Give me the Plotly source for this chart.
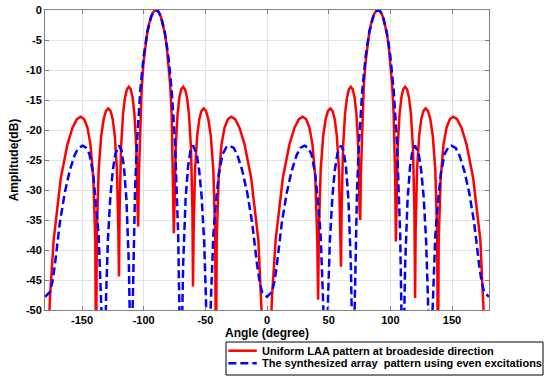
import plotly.graph_objects as go

# ---- Data ----
red_angle = [
    -180, -175.95, -172.98, -167.16, -161.81, -157.67, -154.16, -151.04, -148.21, -145.59, -143.13, -140.81, -139.24, -138.59,
    -137.94, -136.47, -134.43, -132.45, -130.54, -128.68, -126.87, -125.10, -123.37, -121.67, -120.50, -120.0,
    -119.51, -118.36, -116.74, -115.15, -113.58, -112.02, -110.49, -108.97, -107.46, -105.96, -104.92, -104.45,
    -103.89, -102.71, -101.54, -100.08, -98.63, -97.18, -95.74, -94.30, -92.87, -91.43, -90, -88.57, -87.13, -85.70,
    -84.26, -82.82, -81.37, -79.92, -78.46, -77.29, -76.11, -75.55,
    -75.08, -74.04, -72.54, -71.03, -69.51, -67.98, -66.42, -64.85, -63.26, -61.64, -60.49, -60.0,
    -59.50, -58.33, -56.63, -54.90, -53.13, -51.32, -49.46, -47.55, -45.57, -43.53, -42.06, -41.41,
    -40.76, -39.19, -36.87, -34.41, -31.79, -28.96, -25.84, -22.33, -18.19, -12.84, -7.02, -4.05, 0,
    4.05, 7.02, 12.84, 18.19, 22.33, 25.84, 28.96, 31.79, 34.41, 36.87, 39.19, 40.76, 41.45,
    42.06, 43.53, 45.57, 47.55, 49.46, 51.32, 53.13, 54.90, 56.63, 58.33, 59.50, 60.0,
    60.49, 61.64, 63.26, 64.85, 66.42, 67.98, 69.51, 71.03, 72.54, 74.04, 75.08, 75.6,
    76.11, 77.29, 78.46, 79.92, 81.37, 82.82, 84.26, 85.70, 87.13, 88.57, 90, 91.43, 92.87, 94.30,
    95.74, 97.18, 98.63, 100.08, 101.54, 102.71, 103.89, 104.5,
    104.92, 105.96, 107.46, 108.97, 110.49, 112.02, 113.58, 115.15, 116.74, 118.36, 119.51, 120.1,
    120.50, 121.67, 123.37, 125.10, 126.87, 128.68, 130.54, 132.45, 134.43, 136.47, 137.94, 138.59,
    139.24, 140.81, 143.13, 145.59, 148.21, 151.04, 154.16, 157.67, 161.81, 167.16, 172.98, 175.95, 180,
]
red_db = [
    -70, -47.8, -38.3, -28.0, -22.4, -19.6, -18.2, -17.8, -18.2, -19.6, -22.4, -28.0, -38.3, -60,
    -36.9, -26.6, -21.0, -18.2, -16.8, -16.4, -16.8, -18.2, -21.0, -26.6, -36.9, -44.4,
    -33.3, -23.0, -17.4, -14.6, -13.2, -12.8, -13.2, -14.6, -17.4, -23.0, -33.3, -36.1,
    -27.6, -17.5, -12.6, -8.7, -5.9, -3.9, -2.4, -1.33, -0.58, -0.14, 0, -0.14, -0.58, -1.33,
    -2.4, -3.9, -5.9, -8.7, -12.6, -17.5, -27.6, -37.2,
    -33.3, -23.0, -17.4, -14.6, -13.2, -12.8, -13.2, -14.6, -17.4, -23.0, -33.3, -46.1,
    -36.9, -26.6, -21.0, -18.2, -16.8, -16.4, -16.8, -18.2, -21.0, -26.6, -36.9, -60,
    -38.3, -28.0, -22.4, -19.6, -18.2, -17.8, -18.2, -19.6, -22.4, -28.0, -38.3, -47.8, -70,
    -47.8, -38.3, -28.0, -22.4, -19.6, -18.2, -17.8, -18.2, -19.6, -22.4, -28.0, -38.3, -48.3,
    -36.9, -26.6, -21.0, -18.2, -16.8, -16.4, -16.8, -18.2, -21.0, -26.6, -36.9, -42.8,
    -33.3, -23.0, -17.4, -14.6, -13.2, -12.8, -13.2, -14.6, -17.4, -23.0, -33.3, -35.0,
    -27.6, -17.5, -12.6, -8.7, -5.9, -3.9, -2.4, -1.33, -0.58, -0.14, 0, -0.14, -0.58, -1.33,
    -2.4, -3.9, -5.9, -8.7, -12.6, -17.5, -27.6, -38.6,
    -33.3, -23.0, -17.4, -14.6, -13.2, -12.8, -13.2, -14.6, -17.4, -23.0, -33.3, -48.0,
    -36.9, -26.6, -21.0, -18.2, -16.8, -16.4, -16.8, -18.2, -21.0, -26.6, -36.9, -60,
    -38.3, -28.0, -22.4, -19.6, -18.2, -17.8, -18.2, -19.6, -22.4, -28.0, -38.3, -47.8, -70,
]

blue_angle = [
    -180, -176, -174, -172, -168, -164, -160, -156, -153, -149.5, -147, -144, -141, -138.4, -136.5, -134.3, -132.5,
    -130.5, -129, -127, -125, -123, -120, -118, -116, -114, -112, -111, -110,
    -109, -108, -107, -105.4, -102.7, -100, -97, -94, -92, -90, -88, -86, -83, -80, -77.3, -74.6, -73, -72, -71, -70,
    -69, -68, -66, -64, -62, -60, -57, -55, -53, -51, -49.5, -47.5,
    -45.7, -43.5, -41.6, -39, -36, -33, -30.5, -27, -24, -20, -16, -12, -8, -6, -4, 0,
    4, 6, 8, 12, 16, 20, 24, 27, 30.5, 33, 36, 39, 41.6, 43.5, 45.7, 47.5,
    49.5, 51, 53, 55, 57, 60, 62, 64, 66, 68, 69, 70,
    71, 72, 73, 74.6, 77.3, 80, 83, 86, 88, 90, 92, 94, 97, 100, 102.7, 105.4, 107, 108, 109, 110,
    111, 112, 114, 116, 118, 120, 123, 125, 127, 129, 130.5, 132.5,
    134.3, 136.5, 138.4, 141, 144, 147, 149.5, 153, 156, 160, 164, 168, 172, 174, 176, 180,
]
blue_db = [
    -47.8, -47.0, -45.3, -42.5, -35.5, -30.5, -26.8, -24.2, -23.0, -22.6, -22.9, -24.0, -27.2, -32.5, -37.5, -49.7, -75,
    -48.0, -38.4, -31.1, -26.7, -24.0, -22.6, -23.4, -26.1, -31.5, -42.5, -54, -75,
    -50.3, -37.6, -30.1, -22.0, -13.3, -7.7, -3.6, -1.13, -0.27, 0, -0.27, -1.13, -3.6, -7.7, -13.3, -22.0, -30.1, -37.6, -50.3, -75,
    -54, -42.5, -31.5, -26.1, -23.4, -22.6, -24.0, -26.7, -31.1, -38.4, -48.0, -75,
    -49.7, -37.5, -32.5, -27.2, -24.0, -22.9, -22.6, -23.0, -24.2, -26.8, -30.5, -35.5, -42.5, -45.3, -47.0, -47.8,
    -47.0, -45.3, -42.5, -35.5, -30.5, -26.8, -24.2, -23.0, -22.6, -22.9, -24.0, -27.2, -32.5, -37.5, -49.7, -75,
    -48.0, -38.4, -31.1, -26.7, -24.0, -22.6, -23.4, -26.1, -31.5, -42.5, -54, -75,
    -50.3, -37.6, -30.1, -22.0, -13.3, -7.7, -3.6, -1.13, -0.27, 0, -0.27, -1.13, -3.6, -7.7, -13.3, -22.0, -30.1, -37.6, -50.3, -75,
    -54, -42.5, -31.5, -26.1, -23.4, -22.6, -24.0, -26.7, -31.1, -38.4, -48.0, -75,
    -49.7, -37.5, -32.5, -27.2, -24.0, -22.9, -22.6, -23.0, -24.2, -26.8, -30.5, -35.5, -42.5, -45.3, -47.0, -47.8,
]

x_ticks = [-150, -100, -50, 0, 50, 100, 150]
x_tick_labels = ["-150", "-100", "-50", "0", "50", "100", "150"]
y_ticks = [-50, -45, -40, -35, -30, -25, -20, -15, -10, -5, 0]
y_tick_labels = ["-50", "-45", "-40", "-35", "-30", "-25", "-20", "-15", "-10", "-5", "0"]

red_name = "Uniform LAA pattern at broadeside direction"
blue_name = "The synthesized array\u00a0 pattern using even excitations"

RED = "#ff0000"
BLUE = "#0000ff"
DASH = "8px,4px"
FONT = "Liberation Sans, Arial, sans-serif"

fig = go.Figure()
fig.add_trace(go.Scatter(x=red_angle, y=red_db, mode="lines", name=red_name,
                         line=dict(color=RED, width=2.5), showlegend=False))
fig.add_trace(go.Scatter(x=blue_angle, y=blue_db, mode="lines", name=blue_name,
                         line=dict(color=BLUE, width=2.5, dash=DASH), showlegend=False))

axis_common = dict(
    showgrid=True, gridcolor="#e3e3e3", gridwidth=1,
    zeroline=False, showline=True, linecolor="#808080", linewidth=1,
    mirror="ticks", ticks="inside", ticklen=4, tickcolor="#808080",
    tickfont=dict(family=FONT, size=11, color="black", weight="bold"),
    automargin=False,
)

# Legend box (placed below the plot, in paper coordinates of the plot area)
L_X0, L_X1, L_Y0, L_Y1 = 0.4077, 1.1216, -0.2167, -0.1067
ROW1, ROW2 = -0.1357, -0.1777
SAMPLE_X0, SAMPLE_X1, TEXT_X = 0.4129, 0.4770, 0.4842

shapes = [
    dict(type="rect", xref="paper", yref="paper", x0=L_X0, x1=L_X1, y0=L_Y0, y1=L_Y1,
         line=dict(color="black", width=1), fillcolor="white", layer="above"),
    dict(type="line", xref="paper", yref="paper", x0=SAMPLE_X0, x1=SAMPLE_X1, y0=ROW1, y1=ROW1,
         line=dict(color=RED, width=2.5)),
    dict(type="line", xref="paper", yref="paper", x0=SAMPLE_X0, x1=SAMPLE_X1, y0=ROW2, y1=ROW2,
         line=dict(color=BLUE, width=2.5, dash=DASH)),
]
annotations = [
    dict(text="<b>%s</b>" % red_name, xref="paper", yref="paper", x=TEXT_X, y=ROW1,
         xanchor="left", yanchor="middle", showarrow=False,
         font=dict(family=FONT, size=11, color="black")),
    dict(text="<b>%s</b>" % blue_name, xref="paper", yref="paper", x=TEXT_X, y=ROW2,
         xanchor="left", yanchor="middle", showarrow=False,
         font=dict(family=FONT, size=11, color="black")),
]

fig.update_layout(
    width=550, height=376,
    margin=dict(l=45, r=61, t=10, b=66),
    paper_bgcolor="white", plot_bgcolor="white",
    font=dict(family=FONT, color="black"),
    xaxis=dict(range=[-180, 180], tickmode="array", tickvals=x_ticks, ticktext=x_tick_labels,
               title=dict(text="Angle (degree)", font=dict(family=FONT, size=12, weight="bold"), standoff=2),
               **axis_common),
    yaxis=dict(range=[-50, 0], tickmode="array", tickvals=y_ticks, ticktext=y_tick_labels,
               title=dict(text="Amplitude(dB)", font=dict(family=FONT, size=12, weight="bold"), standoff=4),
               **axis_common),
    shapes=shapes,
    annotations=annotations,
    showlegend=False,
)

# Remove the default 8px page margin so the figure sits at the window's corner.
fig.write_html("out.html",
               config={"displayModeBar": False},
               post_script="document.body.style.margin='0px';document.body.style.overflow='hidden';")
